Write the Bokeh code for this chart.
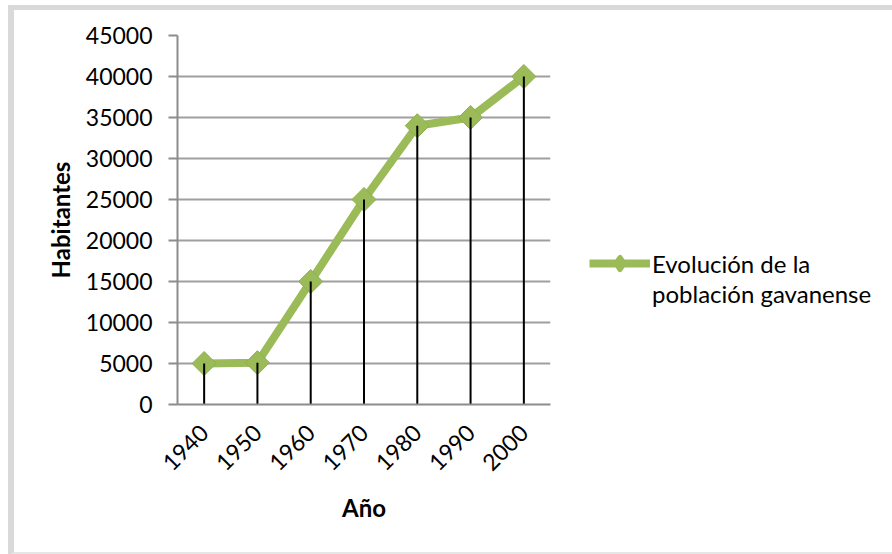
import math
from bokeh.plotting import figure
from bokeh.models import (FactorRange, Range1d, FixedTicker, ColumnDataSource, Legend, LegendItem,
                          InlineStyleSheet)
from bokeh.embed import file_html
from bokeh.resources import INLINE

years = ["1940", "1950", "1960", "1970", "1980", "1990", "2000"]
habitantes = [5000, 5100, 15000, 25000, 34000, 35000, 40000]
y_ticks = [0, 5000, 10000, 15000, 20000, 25000, 30000, 35000, 40000, 45000]
series_name_1 = "Evolución de la"
series_name_2 = "población gavanense"

GREEN = "#9BBB59"
FONT = "Lato"

src = ColumnDataSource(dict(x=years, y=habitantes, y0=[0] * len(years)))

p = figure(frame_width=373, frame_height=369, x_range=FactorRange(*years), y_range=Range1d(0, 45000),
           output_backend="svg", toolbar_location=None,
           min_border_left=177, min_border_right=0, min_border_top=35, min_border_bottom=150)
p.outline_line_color = None
p.background_fill_color = "white"
p.border_fill_color = "white"

# grid
p.xgrid.grid_line_color = None
p.ygrid.grid_line_color = "#9f9f9f"
p.ygrid.grid_line_width = 2
p.ygrid.ticker = FixedTicker(ticks=y_ticks)

# y axis
p.yaxis.ticker = FixedTicker(ticks=y_ticks)
p.yaxis.axis_line_color = "#8c8c8c"
p.yaxis.axis_line_width = 2
p.yaxis.major_tick_line_color = "#8c8c8c"
p.yaxis.major_tick_line_width = 2
p.yaxis.major_tick_out = 9
p.yaxis.major_tick_in = 0
p.yaxis.minor_tick_line_color = None
p.yaxis.major_label_standoff = 16
p.yaxis.major_label_text_font = FONT
p.yaxis.major_label_text_font_size = "23px"
p.yaxis.major_label_text_color = "black"
p.yaxis.axis_label = "Habitantes"
p.yaxis.axis_label_text_font = FONT
p.yaxis.axis_label_text_font_style = "bold"
p.yaxis.axis_label_text_font_size = "24px"
p.yaxis.axis_label_text_color = "black"
p.yaxis.axis_label_standoff = 8

# x axis
p.xaxis.axis_line_color = "#8c8c8c"
p.xaxis.axis_line_width = 2
p.xaxis.major_tick_line_color = None
p.xaxis.major_tick_out = 0
p.xaxis.major_tick_in = 0
p.xaxis.minor_tick_line_color = None
p.xaxis.major_label_orientation = math.pi / 4
p.xaxis.major_label_standoff = 24
p.xaxis.major_label_text_font = FONT
p.xaxis.major_label_text_font_size = "23px"
p.xaxis.major_label_text_color = "black"
p.xaxis.axis_label = "Año"
p.xaxis.axis_label_text_font = FONT
p.xaxis.axis_label_text_font_style = "bold"
p.xaxis.axis_label_text_font_size = "24px"
p.xaxis.axis_label_text_color = "black"
p.xaxis.axis_label_standoff = 12

# series
line_r = p.line("x", "y", source=src, line_color=GREEN, line_width=8, line_join="round")
mark_r = p.scatter("x", "y", source=src, marker="square", angle=math.pi / 4, size=17,
                   fill_color=GREEN, line_color="#8fb04c", line_width=1)
# small diamond (hidden under the markers) used for the legend glyph
legend_diamond = p.scatter("x", "y", source=src, marker="diamond", size=4,
                           fill_color=GREEN, line_color=GREEN, line_width=5, line_join="round")
# drop lines
p.segment(x0="x", y0="y", x1="x", y1="y0", source=src, line_color="black", line_width=2)

ghost = p.line(x=[], y=[], line_alpha=0)

legend = Legend(items=[LegendItem(label=series_name_1, renderers=[line_r, legend_diamond]),
                       LegendItem(label=series_name_2, renderers=[ghost])],
                orientation="vertical", location=(39, 96),
                glyph_width=61, glyph_height=30, label_height=30, spacing=0,
                label_standoff=2, padding=0, margin=0,
                border_line_color=None, background_fill_alpha=0,
                label_text_font=FONT, label_text_font_size="24px", label_text_color="black")
p.add_layout(legend, "right")

p.stylesheets = [InlineStyleSheet(css="""
:host { position: relative; }
:host::after {
  content: "";
  position: absolute;
  left: 8px; top: 5px; width: 878px; height: 542px;
  border-left: 6px solid #d9d9d9;
  border-top: 5px solid #d9d9d9;
  border-bottom: 3px solid #e6e6e6;
  pointer-events: none;
  box-sizing: content-box;
}
""")]

open("out.html", "w").write(file_html(p, INLINE))
